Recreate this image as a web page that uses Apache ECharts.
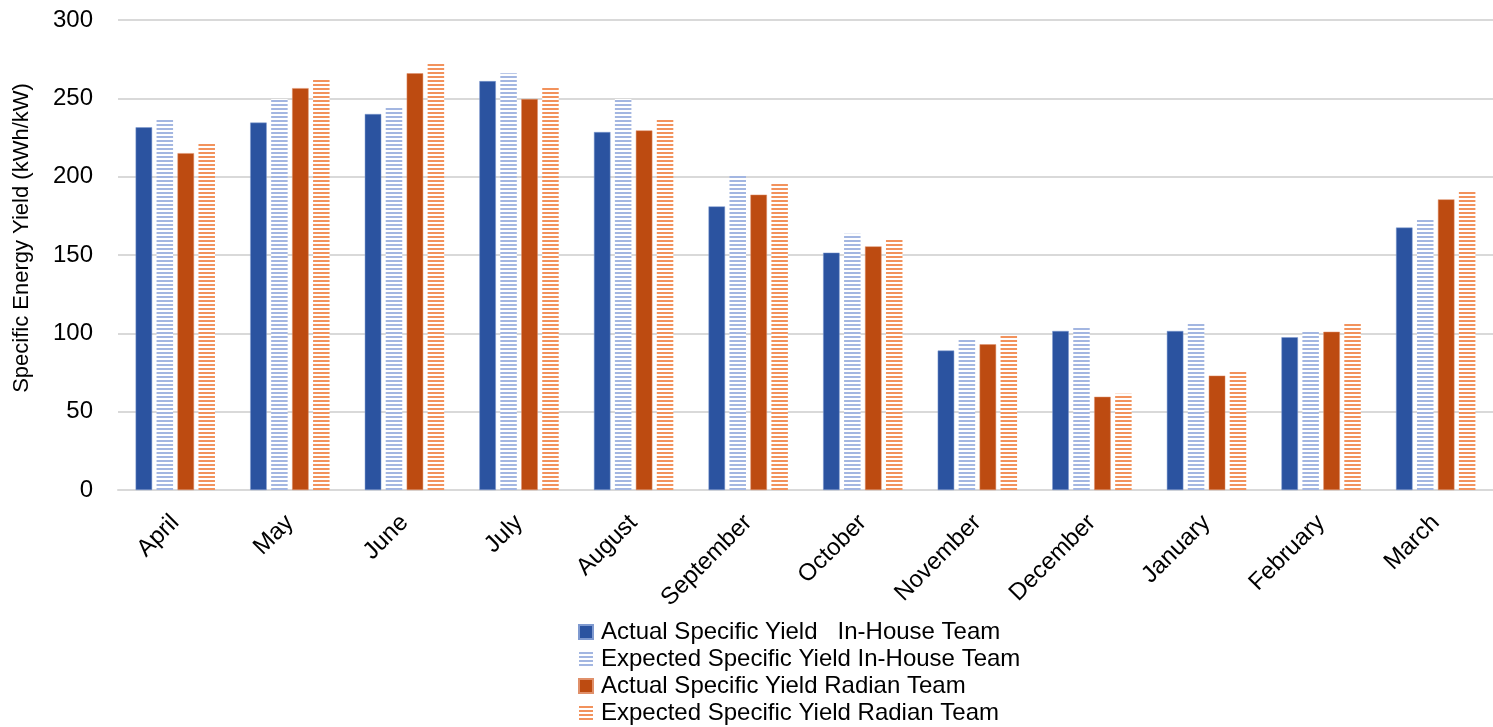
<!DOCTYPE html>
<html>
<head>
<meta charset="utf-8">
<script src="https://cdn.jsdelivr.net/npm/echarts@6/dist/echarts.min.js"></script>
<style>
html, body { margin: 0; padding: 0; background: #fff; }
#yieldChart { width: 1493px; height: 727px; }
</style>
</head>
<body>
<div id="yieldChart"></div>
<script>
// months and yields (kWh/kW)
const months = ['April', 'May', 'June', 'July', 'August', 'September', 'October', 'November', 'December', 'January', 'February', 'March']
const actualInHouse = [231.5, 234.5, 240, 261, 228.5, 181, 151.5, 89, 101.5, 101.5, 97.5, 167.5]
const expectedInHouse = [236.5, 249.5, 245, 266, 249.5, 201, 163.5, 96.5, 104, 106.5, 101.5, 173]
const actualRadian = [215, 256.5, 266, 249.5, 229.5, 188.5, 155.5, 93, 59.5, 73, 101, 185.5]
const expectedRadian = [221, 263, 273, 257.5, 237, 195.5, 160, 98.5, 61.5, 76.5, 107, 191]
const yTicks = [0, 50, 100, 150, 200, 250, 300]

// horizontal stripe fill for the "expected" bars
function stripes (color) {
    const c = document.createElement('canvas')
    c.width = 4
    c.height = 4
    const ctx = c.getContext('2d')
    ctx.fillStyle = '#fff'
    ctx.fillRect(0, 0, 4, 4)
    ctx.fillStyle = color
    ctx.fillRect(0, 0, 4, 2)
    return { image: c, repeat: 'repeat' }
}

const font = '"Liberation Sans", Arial, sans-serif'
const chart = echarts.init(document.getElementById('yieldChart'))

const barBase = {
    type: 'bar',
    barWidth: 16.5,
    barGap: '27%',
    barCategoryGap: '31%'
}

const option = {
    backgroundColor: '#fff',
    animation: false,
    textStyle: { fontFamily: font },
    grid: {
        left: 118,
        top: 20,
        width: 1390,
        height: 470
    },
    legend: {
        orient: 'vertical',
        left: 578,
        top: 620,
        padding: 0,
        itemWidth: 14,
        itemHeight: 14,
        itemGap: 3,
        icon: 'rect',
        textStyle: { fontSize: 24, lineHeight: 24, color: '#000', fontFamily: font, padding: [0, 0, 0, 3] },
        data: ['Actual Specific Yield   In-House Team', 'Expected Specific Yield In-House Team',
            'Actual Specific Yield Radian Team', 'Expected Specific Yield Radian Team']
    },
    xAxis: {
        type: 'category',
        data: months,
        axisLine: { show: true, lineStyle: { color: '#d9d9d9', width: 2 } },
        axisTick: { show: false },
        axisLabel: {
            rotate: 45,
            interval: 0,
            margin: 29,
            fontSize: 24,
            color: '#000',
            fontFamily: font
        }
    },
    yAxis: {
        type: 'value',
        min: yTicks[0],
        max: yTicks[yTicks.length - 1],
        interval: 50,
        name: 'Specific Energy Yield (kWh/kW)',
        nameLocation: 'middle',
        nameGap: 85,
        nameTextStyle: { fontSize: 22, color: '#000', fontFamily: font, padding: [0, 0, 0, 34] },
        axisLine: { show: false },
        axisTick: { show: false },
        axisLabel: { fontSize: 24, color: '#000', margin: 25, fontFamily: font },
        splitLine: { lineStyle: { color: '#d9d9d9', width: 2 } }
    },
    series: [
        Object.assign({}, barBase, {
            name: 'Actual Specific Yield   In-House Team',
            data: actualInHouse,
            itemStyle: { color: '#2b53a0', borderColor: '#7f9ad0', borderWidth: 0.5 }
        }),
        Object.assign({}, barBase, {
            name: 'Expected Specific Yield In-House Team',
            data: expectedInHouse,
            itemStyle: { color: stripes('#a3b6e1') }
        }),
        Object.assign({}, barBase, {
            name: 'Actual Specific Yield Radian Team',
            data: actualRadian,
            itemStyle: { color: '#bd4b11', borderColor: '#e0906a', borderWidth: 0.5 }
        }),
        Object.assign({}, barBase, {
            name: 'Expected Specific Yield Radian Team',
            data: expectedRadian,
            itemStyle: { color: stripes('#f2925c') }
        })
    ]
}

chart.setOption(option)
</script>
</body>
</html>
